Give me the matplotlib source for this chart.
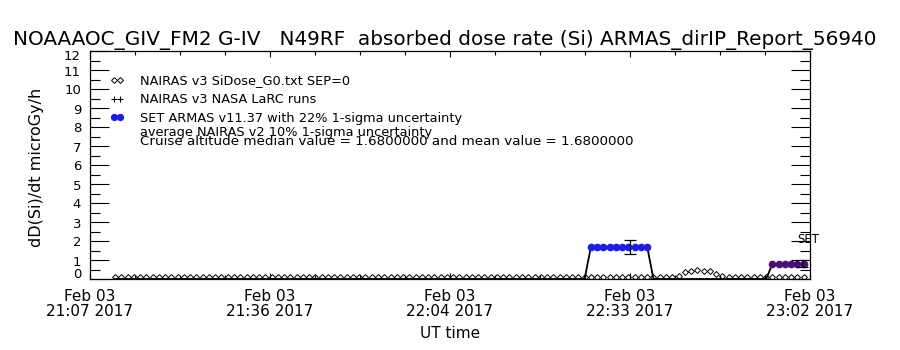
import numpy as np
import pandas as pd
import matplotlib
matplotlib.use('Agg')
import matplotlib.pyplot as plt
from matplotlib.ticker import FixedLocator, MultipleLocator

plt.rcParams['font.family'] = ['DejaVu Sans']

title = 'NOAAAOC_GIV_FM2 G-IV   N49RF  absorbed dose rate (Si) ARMAS_dirIP_Report_56940'
x_tick_labels = ['Feb 03\n21:07 2017', 'Feb 03\n21:36 2017', 'Feb 03\n22:04 2017',
                 'Feb 03\n22:33 2017', 'Feb 03\n23:02 2017']
y_ticks = [0, 1, 2, 3, 4, 5, 6, 7, 8, 9, 10, 11, 12]
t_start = pd.Timestamp('2017-02-03 21:07:00')
t_end = pd.Timestamp('2017-02-03 23:02:00')

# one sample per minute from 21:11
sample_start = '2017-02-03 21:11'

# NAIRAS v3 Si dose rate (microGy/h)
nairas_si = [
    0.08, 0.08, 0.08, 0.08, 0.08, 0.08, 0.08, 0.08, 0.08, 0.08,
    0.08, 0.08, 0.08, 0.08, 0.08, 0.08, 0.08, 0.08, 0.08, 0.08,
    0.08, 0.08, 0.08, 0.08, 0.08, 0.08, 0.08, 0.08, 0.08, 0.08,
    0.08, 0.08, 0.08, 0.08, 0.08, 0.08, 0.08, 0.08, 0.08, 0.08,
    0.08, 0.08, 0.08, 0.08, 0.08, 0.08, 0.08, 0.08, 0.08, 0.08,
    0.08, 0.08, 0.08, 0.08, 0.08, 0.08, 0.08, 0.08, 0.08, 0.08,
    0.08, 0.08, 0.08, 0.08, 0.08, 0.08, 0.08, 0.08, 0.08, 0.08,
    0.08, 0.08, 0.08, 0.08, 0.08, 0.08, 0.08, 0.08, 0.08, 0.08,
    0.08, 0.08, 0.08, 0.08, 0.08, 0.08, 0.08, 0.08, 0.09, 0.12,
    0.14, 0.35, 0.40, 0.45, 0.42, 0.40, 0.25, 0.15, 0.13, 0.11,
    0.09, 0.08, 0.08, 0.08, 0.08, 0.08, 0.08, 0.08, 0.08, 0.08,
    0.08,
]

# SET ARMAS v11.37 dose rate (microGy/h)
armas_dose = [
    0, 0, 0, 0, 0, 0, 0, 0, 0, 0,
    0, 0, 0, 0, 0, 0, 0, 0, 0, 0,
    0, 0, 0, 0, 0, 0, 0, 0, 0, 0,
    0, 0, 0, 0, 0, 0, 0, 0, 0, 0,
    0, 0, 0, 0, 0, 0, 0, 0, 0, 0,
    0, 0, 0, 0, 0, 0, 0, 0, 0, 0,
    0, 0, 0, 0, 0, 0, 0, 0, 0, 0,
    0, 0, 0, 0, 0, 0, 1.68, 1.68, 1.68, 1.68,
    1.68, 1.68, 1.68, 1.68, 1.68, 1.68, 0, 0, 0, 0,
    0, 0, 0, 0, 0, 0, 0, 0, 0, 0,
    0, 0, 0, 0, 0, 0.8, 0.8, 0.8, 0.8, 0.8,
    0.8,
]

# error bars (22% 1-sigma)
err_times = ['2017-02-03 22:33:16', '2017-02-03 23:00:42']
err_values = [1.68, 0.8]
uncertainty = 0.22

legend_lines = ['NAIRAS v3 SiDose_G0.txt SEP=0',
                'NAIRAS v3 NASA LaRC runs',
                'SET ARMAS v11.37 with 22% 1-sigma uncertainty']
note_lines = ['average NAIRAS v2 10% 1-sigma uncertainty',
              'Cruise altitude median value = 1.6800000 and mean value = 1.6800000']

blue = '#1c1ce6'
purple = '#4a0f7a'

times = pd.date_range(sample_start, periods=len(nairas_si), freq='min')
nairas = np.array(nairas_si)
armas = np.array(armas_dose)

fig = plt.figure(figsize=(9, 3.5), dpi=100)
ax = fig.add_axes([0.1, 1 - 279 / 350, 0.8, 228 / 350])

# NAIRAS diamonds
ax.plot(times, nairas, 'D', ms=3.0, mfc='none', mec='k', mew=0.7, zorder=3)

# ARMAS connecting line
ax.plot(times, armas, '-', color='k', lw=1.3, zorder=4, clip_on=False)
hi = armas > 1
mid = (armas > 0) & (armas <= 1)
ax.plot(times[hi], armas[hi], '-o', color=blue, ms=4.5, lw=1.8, zorder=5)
ax.plot(times[mid], armas[mid], '-o', color=purple, ms=4.5, lw=1.8, zorder=5)

ev = np.array(err_values)
ax.errorbar(pd.to_datetime(err_times), ev, yerr=uncertainty * ev, fmt='none',
            ecolor='k', elinewidth=0.9, capsize=4, capthick=0.9, zorder=6)

ax.text(pd.Timestamp('2017-02-03 23:00:00'), 1.9, 'SET', fontsize=8.5, ha='left',
        va='baseline', clip_on=False, zorder=7)

ax.set_xlim(t_start, t_end)
ax.set_ylim(0, 12)

span = (t_end - t_start) / 4
major = [t_start + k * span for k in range(5)]
minor = [t_start + k * span / 4 for k in range(17)]
ax.xaxis.set_major_locator(FixedLocator(matplotlib.dates.date2num(major)))
ax.xaxis.set_minor_locator(FixedLocator(matplotlib.dates.date2num(minor)))
ax.set_xticklabels(x_tick_labels, fontsize=11, linespacing=1.0)
ax.set_yticks(y_ticks)
ax.set_yticklabels([])
ax.yaxis.set_minor_locator(MultipleLocator(0.5))

# y labels: a little below their ticks, end labels pulled inside the range
ytr = ax.get_yaxis_transform()
for v in y_ticks:
    nudge = -2.0
    if v == y_ticks[0]:
        nudge = 5.0
    elif v == y_ticks[-1]:
        nudge = -6.0
    ax.text(-9 / 720, v + nudge / 19, str(v), transform=ytr,
            ha='right', va='center', fontsize=9.5)

ax.tick_params(axis='x', which='both', direction='in', top=True, bottom=True, width=0.8)
ax.tick_params(axis='x', which='major', length=4, pad=7)
ax.tick_params(axis='x', which='minor', length=3)
ax.tick_params(axis='y', which='both', direction='in', left=True, right=True, width=0.8)
ax.tick_params(axis='y', which='major', length=14)
ax.tick_params(axis='y', which='minor', length=7)
for s in ax.spines.values():
    s.set_linewidth(0.9)

# legend drawn by hand
tr = ax.transAxes
ax.plot([0.033, 0.042], [0.873, 0.873], 'D', ms=3.0, mfc='none', mec='k', mew=0.7,
        transform=tr, clip_on=False)
ax.plot([0.033, 0.042], [0.788, 0.788], '+', ms=5, mec='k', mew=0.8,
        transform=tr, clip_on=False)
ax.plot([0.033, 0.042], [0.709, 0.709], 'o-', ms=4.2, color=blue, lw=1.5,
        transform=tr, clip_on=False)
for txt, yb in zip(legend_lines, [0.855, 0.771, 0.69]):
    ax.text(0.0694, yb, txt, fontsize=9.3, transform=tr, va='baseline')
ax.text(0.0694, 0.626, note_lines[0], fontsize=9.3, transform=tr, va='baseline')
ax.text(0.0694, 0.588, note_lines[1], fontsize=9.7, transform=tr, va='baseline')

fig.text(445 / 900, 1 - 45 / 350, title, ha='center', va='baseline', fontsize=14.4)
fig.text(0.5, 1 - 338 / 350, 'UT time', ha='center', va='baseline', fontsize=11)
fig.text(37 / 900, 1 - 167 / 350, 'dD(Si)/dt microGy/h', rotation=90,
         ha='center', va='center', fontsize=11.5)

fig.savefig('out.png', dpi=100)
